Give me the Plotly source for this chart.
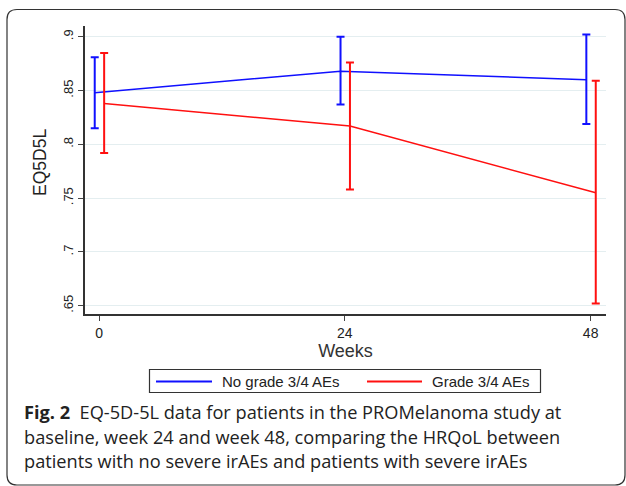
import plotly.graph_objects as go

W, H = 626, 486

# ---- data ----
weeks = [0, 24, 48]
series_names = ["No grade 3/4 AEs", "Grade 3/4 AEs"]
no_grade_mean = [0.848, 0.868, 0.860]
no_grade_upper = [0.881, 0.900, 0.902]
no_grade_lower = [0.815, 0.837, 0.819]
grade_mean = [0.838, 0.817, 0.755]
grade_upper = [0.885, 0.876, 0.859]
grade_lower = [0.792, 0.758, 0.652]
y_tickvals = [0.65, 0.7, 0.75, 0.8, 0.85, 0.9]
y_ticktext = [".65", ".7", ".75", ".8", ".85", ".9"]
x_tickvals = [0, 24, 48]
x_ticktext = ["0", "24", "48"]

BLUE = "#1010ff"
RED = "#ff1010"
offsets = [-0.42, 0.5]
SANS = "Liberation Sans, Arial"


def px_x(p):
    return p / W


def px_y(p):
    return 1 - p / H


fig = go.Figure()
for name, mean, up, lo, col, off in [
    (series_names[0], no_grade_mean, no_grade_upper, no_grade_lower, BLUE, offsets[0]),
    (series_names[1], grade_mean, grade_upper, grade_lower, RED, offsets[1]),
]:
    fig.add_trace(go.Scatter(
        x=[w + off for w in weeks], y=mean, mode="lines", name=name,
        line=dict(color=col, width=1.5),
        error_y=dict(type="data", symmetric=False,
                     array=[u - m for u, m in zip(up, mean)],
                     arrayminus=[m - l for m, l in zip(mean, lo)],
                     color=col, thickness=2, width=4),
        showlegend=False,
    ))

fig.update_layout(
    width=W, height=H,
    margin=dict(l=0, r=0, t=0, b=0),
    paper_bgcolor="white", plot_bgcolor="white",
    xaxis=dict(domain=[px_x(85), px_x(606)], range=[-1.37, 49.5],
               tickvals=x_tickvals, ticktext=x_ticktext,
               ticks="outside", ticklen=5, tickcolor="#444", tickwidth=1,
               showline=True, linecolor="#333", linewidth=1.5,
               showgrid=False, zeroline=False,
               tickfont=dict(family=SANS, size=14, color="#222"),
               title=dict(text="Weeks", font=dict(family=SANS, size=18, color="#333"), standoff=4)),
    yaxis=dict(domain=[px_y(314.3), px_y(26)], range=[0.642, 0.91],
               tickvals=y_tickvals, ticktext=y_ticktext, tickangle=-90,
               ticks="outside", ticklen=5, tickcolor="#444", tickwidth=1,
               showline=True, linecolor="#333", linewidth=1.5,
               showgrid=True, gridcolor="#e4eef0", gridwidth=1,
               zeroline=False,
               tickfont=dict(family=SANS, size=13, color="#222")),
)

shapes = []
# outer rounded frame
x0, y0, x1, y1, r = 7, 9.5, 625, 485, 10
path = (f"M {px_x(x0 + r)} {px_y(y0)} L {px_x(x1 - r)} {px_y(y0)} "
        f"Q {px_x(x1)} {px_y(y0)} {px_x(x1)} {px_y(y0 + r)} "
        f"L {px_x(x1)} {px_y(y1 - r)} Q {px_x(x1)} {px_y(y1)} {px_x(x1 - r)} {px_y(y1)} "
        f"L {px_x(x0 + r)} {px_y(y1)} Q {px_x(x0)} {px_y(y1)} {px_x(x0)} {px_y(y1 - r)} "
        f"L {px_x(x0)} {px_y(y0 + r)} Q {px_x(x0)} {px_y(y0)} {px_x(x0 + r)} {px_y(y0)} Z")
shapes.append(dict(type="path", xref="paper", yref="paper", path=path,
                   line=dict(color="#333", width=1.2)))
# legend box
shapes.append(dict(type="rect", xref="paper", yref="paper",
                   x0=px_x(149.5), x1=px_x(540.5), y0=px_y(392.5), y1=px_y(369.5),
                   line=dict(color="#333", width=1.2), fillcolor="white"))
shapes.append(dict(type="line", xref="paper", yref="paper",
                   x0=px_x(156), x1=px_x(212), y0=px_y(381.5), y1=px_y(381.5),
                   line=dict(color=BLUE, width=2)))
shapes.append(dict(type="line", xref="paper", yref="paper",
                   x0=px_x(367), x1=px_x(422), y0=px_y(381.5), y1=px_y(381.5),
                   line=dict(color=RED, width=2)))

annotations = [
    dict(text="EQ5D5L", x=px_x(40), y=px_y(163), xref="paper", yref="paper",
         xanchor="center", yanchor="middle", textangle=-90, showarrow=False,
         font=dict(family=SANS, size=17.5, color="#222")),
    dict(text=series_names[0], x=px_x(220), y=px_y(381.5), xref="paper", yref="paper",
         xanchor="left", yanchor="middle", showarrow=False,
         font=dict(family=SANS, size=15, color="#222")),
    dict(text=series_names[1], x=px_x(430), y=px_y(381.5), xref="paper", yref="paper",
         xanchor="left", yanchor="middle", showarrow=False,
         font=dict(family=SANS, size=15, color="#222")),
]
caption_lines = [
    "<b>Fig. 2</b>  EQ-5D-5L data for patients in the PROMelanoma study at",
    "baseline, week 24 and week 48, comparing the HRQoL between",
    "patients with no severe irAEs and patients with severe irAEs",
]
for i, line in enumerate(caption_lines):
    annotations.append(dict(text=line, x=px_x(22), y=px_y(412 + i * 24.5), xref="paper", yref="paper",
                            xanchor="left", yanchor="middle", showarrow=False,
                            font=dict(family="Open Sans", size=18.2, color="#222")))

fig.update_layout(shapes=shapes, annotations=annotations)
fig.write_html("out.html")
